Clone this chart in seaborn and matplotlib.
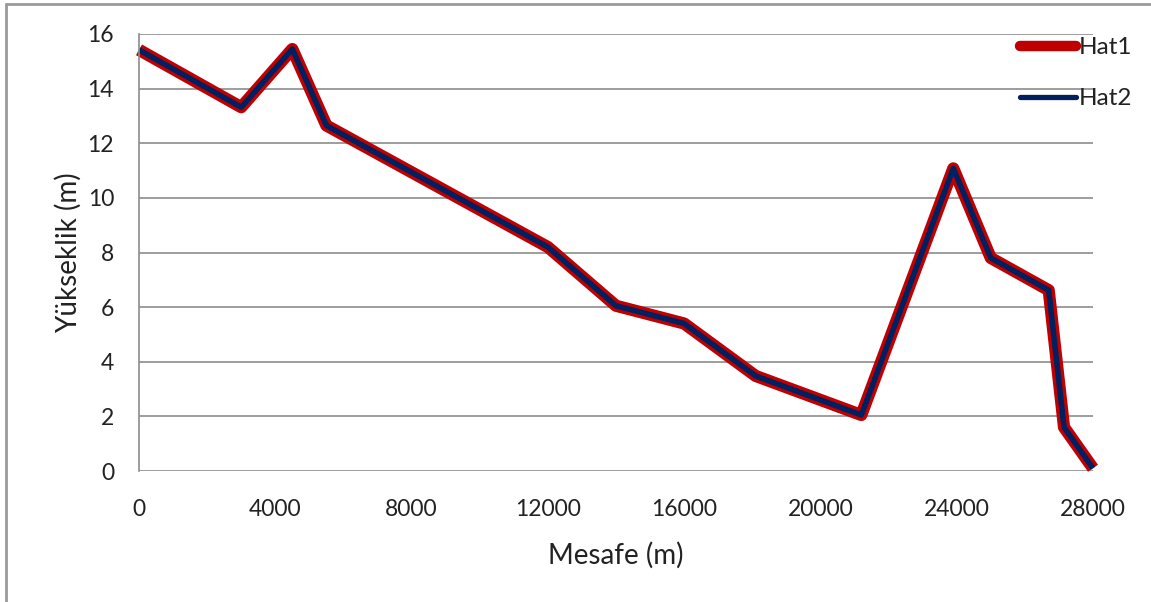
import matplotlib
matplotlib.use("Agg")
import matplotlib.pyplot as plt
from matplotlib.lines import Line2D
import seaborn as sns
import pandas as pd

# Data
mesafe = [0, 3000, 4500, 5500, 12000, 14000, 16000, 18100, 21200, 23900, 25000, 26700, 27150, 28000]
hat1 = [15.42, 13.32, 15.45, 12.65, 8.2, 6.05, 5.4, 3.48, 2.05, 11.08, 7.8, 6.62, 1.6, 0.1]
hat2 = [15.42, 13.32, 15.45, 12.65, 8.2, 6.05, 5.4, 3.48, 2.05, 11.08, 7.8, 6.62, 1.6, 0.1]
series_names = ["Hat1", "Hat2"]
x_ticks = [0, 4000, 8000, 12000, 16000, 20000, 24000, 28000]
y_ticks = [0, 2, 4, 6, 8, 10, 12, 14, 16]

sns.set_style("white")
plt.rcParams["font.family"] = ["Lato", "DejaVu Sans"]

df = pd.DataFrame({"Mesafe": mesafe, "Hat1": hat1, "Hat2": hat2})

fig = plt.figure(figsize=(11.51, 6.02), dpi=100)
ax = fig.add_axes([139 / 1151, 1 - 471 / 602, (1093 - 139) / 1151, (471 - 34) / 602])

red = "#C00000"
navy = "#002060"
sns.lineplot(data=df, x="Mesafe", y="Hat1", ax=ax, color=red, linewidth=8.8,
             solid_joinstyle="round", solid_capstyle="butt", legend=False, clip_on=False)
sns.lineplot(data=df, x="Mesafe", y="Hat2", ax=ax, color=navy, linewidth=4.0,
             solid_joinstyle="round", solid_capstyle="butt", legend=False, clip_on=False)

ax.set_xlim(0, 28000)
ax.set_ylim(0, 16)
ax.set_xticks(x_ticks)
ax.set_yticks(y_ticks)
ax.set_xticklabels([str(t) for t in x_ticks])
ax.set_yticklabels([str(t) for t in y_ticks])
ax.tick_params(axis="both", length=0, labelsize=16.5, colors="#222222")
ax.tick_params(axis="y", pad=18)
ax.tick_params(axis="x", pad=20)

ax.grid(axis="y", color="#8c8c8c", linewidth=1.2)
ax.set_axisbelow(True)
for s in ["top", "right", "bottom"]:
    ax.spines[s].set_visible(False)
ax.spines["left"].set_color("#8c8c8c")
ax.spines["left"].set_linewidth(1.2)

ax.set_xlabel("Mesafe (m)", fontsize=20, color="#222222", labelpad=16)
ax.set_ylabel("Yükseklik (m)", fontsize=20, color="#222222", labelpad=4)

handles = [Line2D([], [], color=red, linewidth=7.5, solid_capstyle="round"),
           Line2D([], [], color=navy, linewidth=3.8, solid_capstyle="round")]
fig.legend(handles, series_names, loc="upper left", bbox_to_anchor=(1020 / 1151, 1 - 37 / 602),
           frameon=False, fontsize=17.5, handlelength=2.3, handletextpad=0.1,
           labelspacing=1.25, borderpad=0, borderaxespad=0, labelcolor="#222222")

# outer chart frame (top and left edges visible in the reference)
fig.add_artist(Line2D([6 / 1151, 6 / 1151], [0, 1 - 3.5 / 602], transform=fig.transFigure,
                      color="#9a9a9a", linewidth=2))
fig.add_artist(Line2D([6 / 1151, 1], [1 - 3.5 / 602, 1 - 3.5 / 602], transform=fig.transFigure,
                      color="#9a9a9a", linewidth=2))

fig.savefig("out.png", dpi=100)
